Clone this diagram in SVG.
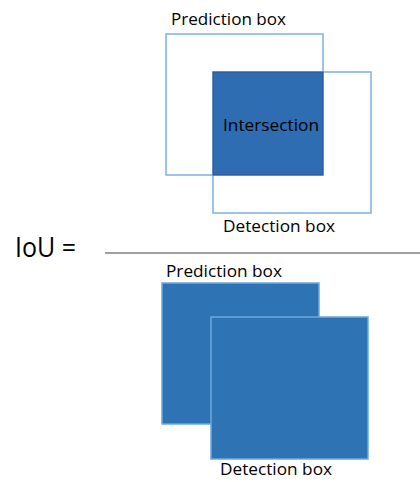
<svg xmlns="http://www.w3.org/2000/svg" width="420" height="482" viewBox="0 0 420 482">
<style>
text{font-family:"Open Sans","Liberation Sans",sans-serif;fill:#000}
.lbl{font-size:17px}
.outline{fill:none;stroke:#7EB0E0;stroke-width:1.5}
.solid{fill:#2E74B5;stroke:#6FA8DC;stroke-width:1.5}
</style>
<rect width="420" height="482" fill="#fff"/>
<g id="top-prediction">
<rect class="outline" x="166" y="34" width="157" height="141"/>
<text class="lbl" x="171" y="25" textLength="115" lengthAdjust="spacingAndGlyphs">Prediction box</text>
</g>
<g id="top-detection">
<rect class="outline" x="213" y="72" width="158" height="141"/>
<text class="lbl" x="223" y="232" textLength="112" lengthAdjust="spacingAndGlyphs">Detection box</text>
</g>
<g id="intersection">
<rect x="213" y="72" width="110" height="103" fill="#2E6DB2" stroke="#2F5597" stroke-width="1"/>
<text class="lbl" x="223" y="131" textLength="96" lengthAdjust="spacingAndGlyphs">Intersection</text>
</g>
<g id="iou">
<text x="15" y="257" font-size="27" textLength="61" lengthAdjust="spacingAndGlyphs">IoU =</text>
</g>
<g id="connectors">
<line x1="105" y1="253" x2="420" y2="253" stroke="#404040" stroke-width="1.2"/>
</g>
<g id="bottom-prediction">
<rect class="solid" x="162" y="283" width="157" height="141"/>
<text class="lbl" x="166" y="277" textLength="116" lengthAdjust="spacingAndGlyphs">Prediction box</text>
</g>
<g id="bottom-detection">
<rect class="solid" x="211" y="317" width="157" height="142"/>
<text class="lbl" x="220" y="475" textLength="112" lengthAdjust="spacingAndGlyphs">Detection box</text>
</g>
</svg>
